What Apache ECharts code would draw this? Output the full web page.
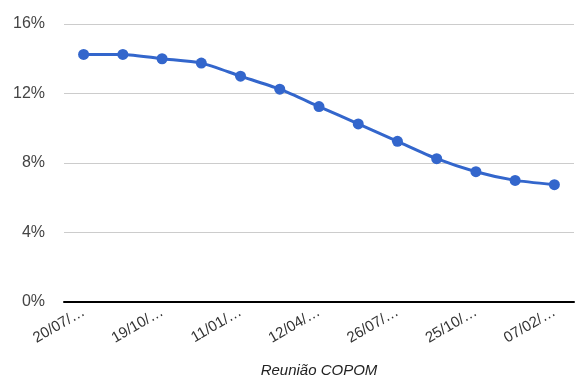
<!DOCTYPE html>
<html>
<head>
<meta charset="utf-8">
<script src="https://cdn.jsdelivr.net/npm/echarts@6/dist/echarts.min.js"></script>
<style>
  html, body { margin: 0; padding: 0; background: #fff; }
  #chart { width: 581px; height: 383px; }
</style>
</head>
<body>
<div id="chart"></div>
<script>
// Reuniões do COPOM e meta Selic (%)
const meetings = [
  '20/07/2016', '31/08/2016', '19/10/2016', '30/11/2016', '11/01/2017',
  '22/02/2017', '12/04/2017', '31/05/2017', '26/07/2017', '06/09/2017',
  '25/10/2017', '06/12/2017', '07/02/2018',
];
const selic = [14.25, 14.25, 14.0, 13.75, 13.0, 12.25, 11.25, 10.25, 9.25, 8.25, 7.5, 7.0, 6.75];
const yTicks = [0, 4, 8, 12, 16];

const chart = echarts.init(document.getElementById('chart'));
chart.setOption({
  animation: false,
  backgroundColor: '#fff',
  grid: { left: 64, right: 7, top: 24, bottom: 81, outerBoundsMode: 'none', containLabel: false },
  xAxis: {
    type: 'category',
    data: meetings,
    name: 'Reunião COPOM',
    nameLocation: 'middle',
    nameGap: 61,
    nameTextStyle: { fontStyle: 'italic', fontSize: 15, color: '#222', fontFamily: 'Liberation Sans' },
    axisLine: { lineStyle: { color: '#000', width: 2 } },
    axisTick: { show: false },
    axisLabel: {
      interval: 1,
      rotate: 30,
      margin: 9,
      fontSize: 15,
      color: '#333',
      fontFamily: 'Liberation Sans',
      formatter: (v) => v.slice(0, 6) + '…',
    },
  },
  yAxis: {
    type: 'value',
    min: yTicks[0],
    max: yTicks[yTicks.length - 1],
    interval: 4,
    axisLine: { show: false },
    axisTick: { show: false },
    axisLabel: {
      margin: 19,
      fontSize: 16,
      color: '#444',
      fontFamily: 'Liberation Sans',
      formatter: (v) => v + '%',
    },
    splitLine: { lineStyle: { color: '#ccc', width: 1 } },
  },
  series: [{
    type: 'line',
    data: selic,
    smooth: 0.25,
    symbol: 'circle',
    symbolSize: 11,
    lineStyle: { color: '#3366cc', width: 3 },
    itemStyle: { color: '#3366cc' },
  }],
});
</script>
</body>
</html>
